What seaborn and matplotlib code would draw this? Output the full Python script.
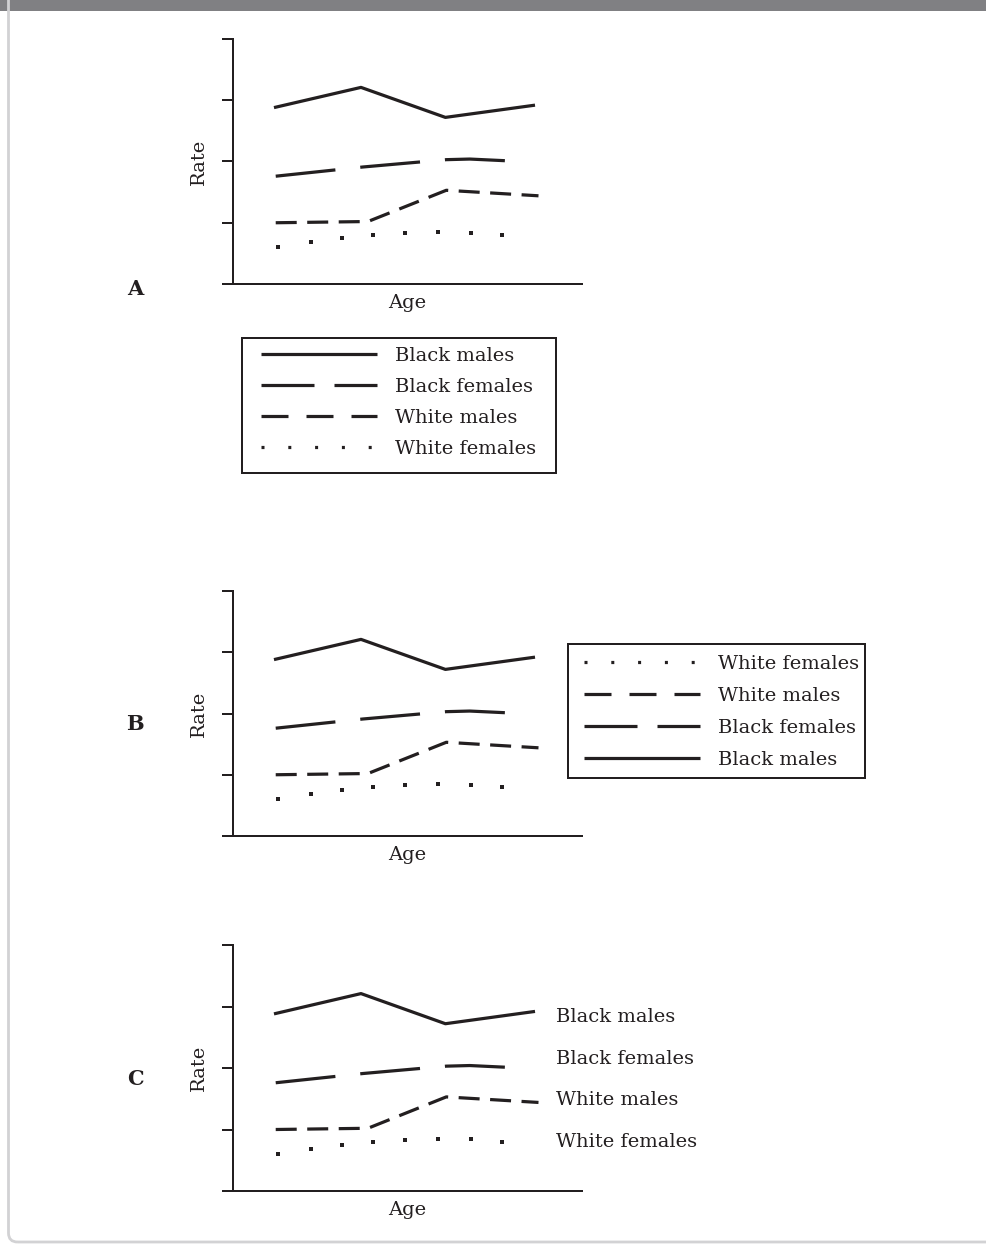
import matplotlib
matplotlib.use("Agg")
import matplotlib.pyplot as plt
from matplotlib.lines import Line2D
from matplotlib.patches import FancyBboxPatch, Rectangle
from matplotlib.transforms import IdentityTransform
import pandas as pd
import seaborn as sns

# ---- data: rate by age for each group ----
bm_age = [1.00, 2.00, 2.97, 4.00]
bm_rate = [2.88, 3.21, 2.72, 2.92]
bf_age = [1.02, 2.02, 2.98, 3.25, 3.70]
bf_rate = [1.76, 1.91, 2.03, 2.04, 2.01]
wm_age = [1.02, 2.08, 2.98, 4.04]
wm_rate = [1.00, 1.02, 1.53, 1.44]
wf_age = [1.05, 1.43, 1.78, 2.14, 2.51, 2.88, 3.26, 3.62]
wf_rate = [0.60, 0.685, 0.745, 0.80, 0.83, 0.85, 0.84, 0.80]

groups = ["Black males", "Black females", "White males", "White females"]
rate_ticks = [0, 1, 2, 3, 4]
panel_letters = ["A", "B", "C"]

series = {
    "Black males": (bm_age, bm_rate),
    "Black females": (bf_age, bf_rate),
    "White males": (wm_age, wm_rate),
    "White females": (wf_age, wf_rate),
}

# ---- styling ----
sns.set_theme(style="white")
plt.rcParams["font.family"] = ["DejaVu Serif"]
plt.rcParams["lines.scale_dashes"] = False
plt.rcParams["lines.solid_capstyle"] = "butt"
plt.rcParams["lines.dash_capstyle"] = "butt"

INK = "#231f20"
PX = 72 / 100  # points per pixel at 100 dpi
FS = 14
FS_PX = FS * 100 / 72
LW = 3.2 * PX

line_styles = {
    "Black males": "-",
    "Black females": (0, (60 * PX, 25 * PX)),
    "White males": (0, (21 * PX, 10.5 * PX)),
}
legend_styles = {
    "Black males": "-",
    "Black females": (0, (53 * PX, 20 * PX)),
    "White males": (0, (27 * PX, 18 * PX)),
    "White females": (0, (3 * PX, 23.8 * PX)),
}

W, H = 987, 1244
fig = plt.figure(figsize=(W / 100, H / 100), dpi=100)
fig.patch.set_facecolor("white")


def fx(px):
    return px / W


def fy(py):
    return 1 - py / H


# page decoration: top bar and rounded light border
fig.add_artist(Rectangle((0, fy(11)), 1, 11 / H, transform=fig.transFigure,
                         facecolor="#808083", edgecolor="none", zorder=0))
fig.add_artist(FancyBboxPatch((8.5, H - 1242), 1400, 1400,
                              boxstyle="round,pad=0,rounding_size=9",
                              transform=IdentityTransform(), fill=False,
                              edgecolor="#d2d2d4", linewidth=2.0, zorder=0))

# axes boxes (left, top, right, bottom) in pixels
boxes = [(233, 39, 582, 284), (233, 591, 582, 836), (233, 945, 582, 1191)]
letter_baselines = [295, 730, 1085]

axes = []
for (l, t, r, b), letter, lb in zip(boxes, panel_letters, letter_baselines):
    ax = fig.add_axes([fx(l), fy(b), (r - l) / W, (b - t) / H])
    for g in groups:
        x, y = series[g]
        df = pd.DataFrame({"Age": x, "Rate": y})
        if g == "White females":
            # dotted series: one small square dot per reading
            sns.lineplot(data=df, x="Age", y="Rate", ax=ax, color=INK,
                         linestyle="", marker="s", markersize=3.2 * PX,
                         markeredgewidth=0, estimator=None, sort=False)
        else:
            sns.lineplot(data=df, x="Age", y="Rate", ax=ax, color=INK, lw=LW,
                         linestyle=line_styles[g], estimator=None, sort=False)
    ax.set_xlim(0.529, 4.540)
    ax.set_ylim(0, 4)
    ax.set_xticks([])
    ax.set_yticks(rate_ticks)
    ax.set_yticklabels([])
    ax.tick_params(axis="y", left=True, length=11 * PX, width=2 * PX,
                   color=INK, direction="out")
    sns.despine(ax=ax)
    for s in ("left", "bottom"):
        ax.spines[s].set_linewidth(2 * PX)
        ax.spines[s].set_color(INK)
    ax.set_xlabel("Age", fontsize=FS, color=INK)
    ax.set_ylabel("Rate", fontsize=FS, color=INK)
    ax.xaxis.set_label_coords(0.5, -0.04)
    ax.yaxis.set_label_coords(-0.072, 0.5)
    ax.patch.set_alpha(0)
    fig.text(fx(135), fy(lb), letter, ha="center", va="baseline",
             fontsize=FS + 1, fontweight="bold", color=INK)
    axes.append(ax)


def make_handles(order):
    return [Line2D([], [], color=INK, lw=LW, linestyle=legend_styles[g])
            for g in order]


def boxed_legend(ax, order, handle_x, first_row_top, spacing, frame):
    leg = ax.legend(make_handles(order), order, loc="upper left",
                    bbox_to_anchor=(fx(handle_x), fy(first_row_top)),
                    bbox_transform=fig.transFigure, frameon=False,
                    borderpad=0, borderaxespad=0,
                    handlelength=116 / FS_PX,
                    handletextpad=18 / FS_PX,
                    labelspacing=spacing, fontsize=FS)
    for t in leg.get_texts():
        t.set_color(INK)
    l, t, r, b = frame
    fig.add_artist(Rectangle((fx(l), fy(b)), (r - l) / W, (b - t) / H,
                             transform=fig.transFigure, fill=False,
                             edgecolor=INK, linewidth=2 * PX))
    return leg


# Panel A: legend below the plot
boxed_legend(axes[0], groups, 261, 347, 0.664, (242, 338, 556, 473))

# Panel B: legend at the right, listed bottom-up
boxed_legend(axes[1], groups[::-1], 584, 655, 0.715, (568, 644, 865, 778))

# Panel C: direct labels next to the lines
label_rates_c = [2.743, 2.065, 1.398, 0.720]
for g, yr in zip(groups, label_rates_c):
    axes[2].text(4.24, yr, g, fontsize=FS, color=INK, va="baseline",
                 ha="left", clip_on=False)

fig.savefig("out.png", dpi=100, facecolor="white")
